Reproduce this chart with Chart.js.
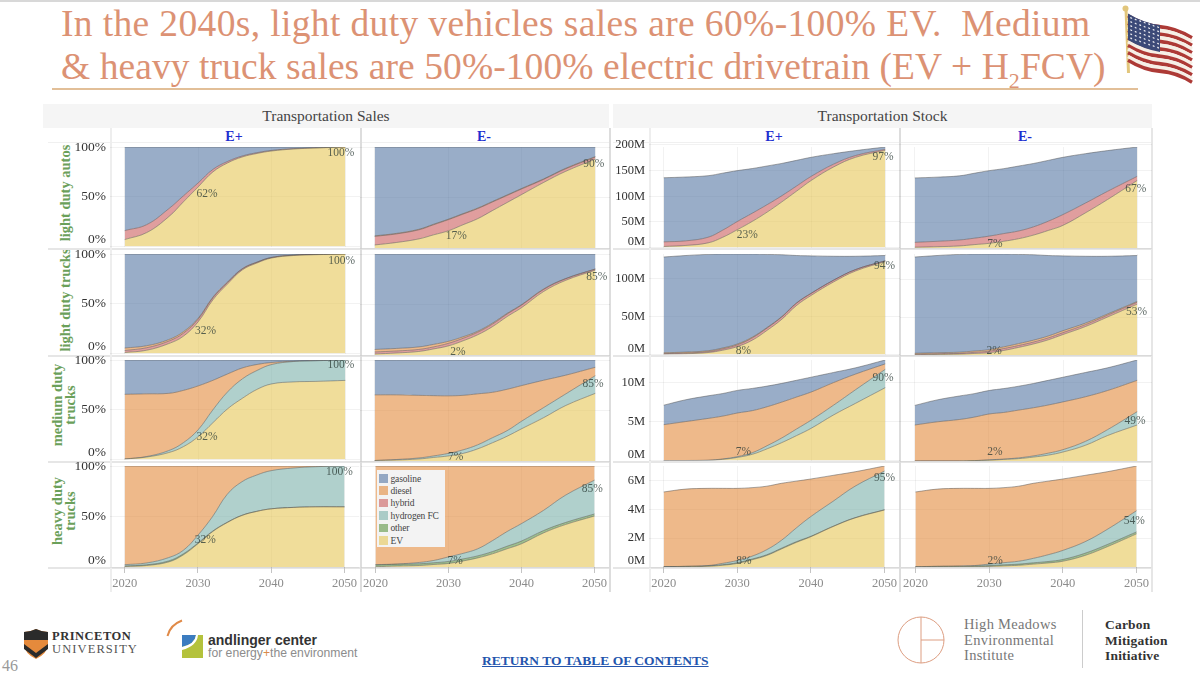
<!DOCTYPE html>
<html>
<head>
<meta charset="utf-8">
<title>Transportation sales and stock</title>
<script src="https://cdn.jsdelivr.net/npm/chart.js@4"></script>
<style>
  html, body { margin: 0; padding: 0; background: #fff; }
  body { width: 1200px; height: 678px; position: relative; overflow: hidden; font-family: "Liberation Serif", serif; }
  .abs { position: absolute; white-space: nowrap; }
  canvas { position: absolute; }
  .line { position: absolute; background: #e4e4e4; }
  .band { position: absolute; background: #f5f5f5; color: #444; font-size: 15.5px; text-align: center; line-height: 24px; top: 104px; height: 24px; }
  .scn { position: absolute; top: 129px; color: #1f2fd0; font-weight: bold; font-size: 14px; line-height: 16px; transform: translateX(-50%); }
  .rowlabel { position: absolute; color: #6ba05a; font-weight: bold; font-size: 14.5px; line-height: 13px; text-align: center; white-space: nowrap; transform: translate(-50%, -50%) rotate(-90deg); }
  .title { position: absolute; left: 61px; color: #dc9274; font-size: 37.5px; line-height: 40px; white-space: nowrap; }
  #legend { position: absolute; left: 377px; top: 470px; width: 68px; height: 77px; background: #f3f3f3; z-index: 5; }
  #legend div { position: absolute; left: 13.5px; font-size: 9.5px; line-height: 12px; letter-spacing: -.15px; color: #444; white-space: nowrap; }
  #legend span { position: absolute; left: -11.5px; top: 1.5px; width: 8.5px; height: 8.5px; }
</style>
</head>
<body>

<div class="line" style="left:0;top:0;width:1200px;height:2px;background:#d8d8d8"></div>
<div class="title" style="top:4px;letter-spacing:0.36px">In the 2040s, light duty vehicles sales are 60%-100% EV.&nbsp; Medium</div>
<div class="title" style="top:47px;letter-spacing:0.08px">&amp; heavy truck sales are 50%-100% electric drivetrain (EV + H<sub style="font-size:22px;line-height:0">2</sub>FCV)</div>
<div class="line" style="left:52px;top:88px;width:1086px;height:2px;background:#e2bf98"></div>

<svg class="abs" style="left:1120px;top:0" width="80" height="85" viewBox="0 0 80 85">
  <line x1="6" y1="9" x2="8.5" y2="73" stroke="#e2c67c" stroke-width="3"/>
  <circle cx="5.5" cy="8.5" r="3" fill="#e2c67c"/>
  <g id="flag" transform="matrix(.64 .22 0 .48 8 14)"></g>
</svg>

<div class="band" style="left:43px;width:566px">Transportation Sales</div>
<div class="band" style="left:613px;width:539px">Transportation Stock</div>
<div class="scn" style="left:234px">E+</div>
<div class="scn" style="left:484px">E-</div>
<div class="scn" style="left:774px">E+</div>
<div class="scn" style="left:1025px">E-</div>

<div class="rowlabel" style="left:65px;top:193px">light duty autos</div>
<div class="rowlabel" style="left:65px;top:300px">light duty trucks</div>
<div class="rowlabel" style="left:64px;top:405px">medium duty<br>trucks</div>
<div class="rowlabel" style="left:64px;top:511px">heavy duty<br>trucks</div>

<div id="legend"></div>

<!-- logos and footer -->
<svg class="abs" style="left:22px;top:628px" width="28" height="33" viewBox="0 0 28 33">
  <path d="M2 4 Q8 4 14 1 Q20 4 26 4 L26 17 Q25 26 14 31 Q3 26 2 17 Z" fill="#e58a3c"/>
  <path d="M2 4 Q8 4 14 1 Q20 4 26 4 L26 12 L2 12 Z" fill="#2b2b2b"/>
  <path d="M2 16 L14 25 L26 16 L26 21 L14 30 L2 21 Z" fill="#2b2b2b"/>
</svg>
<div class="abs" style="left:52px;top:630px;font-size:12.5px;line-height:12.5px;color:#333;font-weight:bold;letter-spacing:.5px">PRINCETON</div>
<div class="abs" style="left:52px;top:643px;font-size:12.5px;line-height:12.5px;color:#555;letter-spacing:1.1px">UNIVERSITY</div>

<svg class="abs" style="left:165px;top:618px" width="45" height="44" viewBox="0 0 45 44">
  <path d="M2.5 18 Q5 7 17 2.5" stroke="#e08a48" stroke-width="2" fill="none"/>
  <rect x="17" y="17" width="21" height="23" fill="#b4c23c"/>
  <path d="M17 17 L31 17 Q30 26 17 29 Z" fill="#3b7cc0"/>
  <path d="M31 17 L33 17 Q32 28 17 32 L17 29 Q30 26 31 17 Z" fill="#fff"/>
</svg>
<div class="abs" style="left:208px;top:632px;font-family:'Liberation Sans',sans-serif;font-weight:bold;font-size:14px;line-height:17px;color:#333">andlinger center</div>
<div class="abs" style="left:208px;top:646px;font-family:'Liberation Sans',sans-serif;font-size:12.2px;line-height:15px;color:#8c8c8c">for energy<span style="color:#d98a4a">+</span>the environment</div>

<div class="abs" style="left:2px;top:657px;font-size:16px;line-height:18px;color:#999">46</div>
<div class="abs" style="left:482px;top:653px;font-size:13.5px;line-height:16px;font-weight:bold;color:#2455ad;text-decoration:underline">RETURN TO TABLE OF CONTENTS</div>

<svg class="abs" style="left:895px;top:614px" width="54" height="52" viewBox="0 0 54 52">
  <circle cx="26" cy="26" r="23" fill="none" stroke="#dd9e82" stroke-width="1"/>
  <line x1="26" y1="3" x2="26" y2="49" stroke="#dd9e82" stroke-width="1"/>
  <line x1="26" y1="26" x2="49" y2="26" stroke="#dd9e82" stroke-width="1"/>
</svg>
<div class="abs" style="left:964px;top:617px;font-size:14.5px;line-height:15.5px;color:#777;letter-spacing:.3px">High Meadows<br>Environmental<br>Institute</div>
<div class="line" style="left:1082px;top:610px;width:1px;height:58px;background:#ccc"></div>
<div class="abs" style="left:1105px;top:617px;font-size:13.5px;line-height:15.5px;color:#333;font-weight:bold;letter-spacing:.2px">Carbon<br>Mitigation<br>Initiative</div>

<script>
// =======================
// DATA
// =======================
const years = [2020, 2023, 2026, 2028, 2030, 2032, 2034, 2036, 2038, 2040, 2043, 2046, 2050];
const xTicks = [2020, 2030, 2040, 2050];

const seriesNames = ['gasoline', 'diesel', 'hybrid', 'hydrogen FC', 'other', 'EV'];
const seriesColors = ['rgba(70,105,155,.55)', 'rgba(224,128,42,.55)', 'rgba(199,79,79,.55)', 'rgba(111,170,162,.55)', 'rgba(78,140,51,.55)', 'rgba(228,193,71,.55)'];

// sales, share of new vehicles (%)
const salesAutosPlusEv = [7, 14, 30, 45, 60, 75, 84, 90, 93.5, 96, 98, 99, 100];
const salesAutosPlusHybrid = [9, 8, 8, 6, 4, 2.5, 1.5, 1, .8, .6, .4, .2, 0];
const salesAutosPlusGas = [84, 78, 62, 49, 36, 22.5, 14.5, 9, 5.7, 3.4, 1.6, .8, 0];

const salesAutosMinusEv = [3, 5.5, 9, 13, 17, 23, 29, 37, 45, 53, 65, 76, 88];
const salesAutosMinusHybrid = [8.5, 8.5, 9, 10, 11, 10.5, 10, 8.5, 7, 5.5, 3, 2.5, 2];
const salesAutosMinusDiesel = [.5, .5, .5, .5, .5, .5, .5, .5, .5, .5, .5, .5, .5];
const salesAutosMinusGas = [88, 85.5, 81.5, 76.5, 71.5, 66, 60.5, 54, 47.5, 41, 31.5, 21, 9.5];

const salesTrucksPlusEv = [1, 3.3, 10, 17.5, 32, 54, 70, 84, 91, 96, 98.5, 99.3, 100];
const salesTrucksPlusHybrid = [2, 2.5, 2.5, 3, 2.5, 2, 1.5, 1, .7, .5, .3, .2, 0];
const salesTrucksPlusDiesel = [2.5, 2, 1.5, 1.5, 1, .7, .5, .3, .2, .1, .1, .1, 0];
const salesTrucksPlusGas = [94.5, 92.2, 86, 78, 64.5, 43.3, 28, 14.7, 8.1, 3.4, 1.1, .4, 0];

const salesTrucksMinusEv = [1, 2, 3.5, 6, 9, 14, 20, 28, 38, 47, 63, 74, 84];
const salesTrucksMinusHybrid = [2, 2, 2, 2, 2.5, 2.5, 2.5, 2.5, 2.5, 2.5, 2, 1.5, 1];
const salesTrucksMinusDiesel = [2.5, 2.5, 2.5, 2.5, 2, 1.5, 1, 1, .7, .5, .5, .3, .2];
const salesTrucksMinusGas = [94.5, 93.5, 92, 89.5, 86.5, 82, 76.5, 68.5, 58.8, 50, 34.5, 24.2, 14.8];

const salesMediumPlusEv = [.5, 2.5, 7, 13, 23, 37, 51, 61.5, 70.5, 76, 78, 78.5, 79.5];
const salesMediumPlusH2 = [0, .5, 2, 4, 7, 13, 17, 19.5, 19, 19.5, 20.5, 20.8, 20.5];
const salesMediumPlusDiesel = [65, 63, 57.5, 52.5, 44, 29.6, 18, 11, 6, 2, .3, 0, 0];
const salesMediumPlusGas = [34.5, 34, 33.5, 30.5, 26, 20.4, 14, 8, 4.5, 2.5, 1.2, .7, 0];

const salesMediumMinusEv = [.5, 1, 2, 3.5, 5, 7.5, 12, 18, 24.5, 32, 43, 55, 67];
const salesMediumMinusH2 = [0, .5, 1, 1.5, 2.5, 3.5, 4, 5, 5.5, 7.5, 10, 11.5, 17.5];
const salesMediumMinusDiesel = [65, 64, 62, 59.7, 57, 54, 50.5, 45, 41, 35.2, 27, 18.5, 8.3];
const salesMediumMinusGas = [34.5, 34.5, 35, 35.3, 35.5, 35, 33.5, 32, 29, 25.3, 20, 15, 7.2];

const salesHeavyPlusEv = [.5, 1.5, 5, 12, 23, 35, 44, 51, 55, 57.6, 59, 59.6, 59.6];
const salesHeavyPlusOther = [.5, .7, 1, 1, .7, .5, .3, .2, .1, 0, 0, 0, 0];
const salesHeavyPlusH2 = [1.3, 1.8, 3.3, 3.5, 7.8, 14.5, 27.7, 33.2, 35.9, 37.8, 39, 39.7, 40.4];
const salesHeavyPlusDiesel = [97.7, 96, 90.7, 83.5, 68.5, 50, 28, 15.6, 9, 4.6, 2, .7, 0];

const salesHeavyMinusEv = [.3, 1, 1.5, 2.5, 3.5, 6, 9, 13, 18, 23, 33.7, 42, 50.5];
const salesHeavyMinusOther = [1.7, 1.7, 1.7, 1.7, 2, 2, 2, 2.2, 2.5, 2.7, 2.3, 2, 2];
const salesHeavyMinusH2 = [.3, .3, 1.3, 2.3, 4.5, 5.5, 7, 10.8, 14.5, 17.3, 20, 27, 33.5];
const salesHeavyMinusDiesel = [97.7, 97, 95.5, 93.5, 90, 86.5, 82, 74, 65, 57, 44, 29, 14];

// stock, vehicles on the road (millions)
const stockAutosPlusEv = [2, 4, 9, 20, 35, 51, 69, 89, 110, 131, 157, 176, 189.5];
const stockAutosPlusHybrid = [9, 9, 11, 14, 16, 16, 14.5, 12, 10, 8, 5.5, 3.5, 2];
const stockAutosPlusGas = [125, 124.5, 120, 111, 99, 87, 75.5, 63, 50, 37, 20.5, 9.5, 4.5];

const stockAutosMinusEv = [1.5, 2.5, 4, 6.5, 9, 13, 18, 25, 34, 44, 68, 94, 131];
const stockAutosMinusHybrid = [9.5, 10.5, 11.5, 12.5, 14, 15, 15, 16, 18, 21, 19, 16, 8];
const stockAutosMinusGas = [125, 124.5, 124.5, 126, 127, 126, 126, 123, 118, 111, 96, 79, 57];

const stockTrucksPlusEv = [.3, 1, 2.6, 5.7, 10.6, 19, 32, 46.7, 65, 78.4, 96, 110.6, 123];
const stockTrucksPlusHybrid = [.8, 1, 1.2, 1.8, 2.2, 3, 3, 3, 3, 2.6, 2.2, 1.8, 1];
const stockTrucksPlusDiesel = [1.2, 1.2, 1.2, 1.2, 1.2, 1, .8, .6, .4, .3, .2, .1, 0];
const stockTrucksPlusGas = [126.7, 127.8, 127.5, 124.3, 119, 110, 96.7, 81.7, 62.6, 49.2, 31.6, 17.5, 7];

const stockTrucksMinusEv = [.3, .7, 1.2, 2, 3, 6, 10, 14.5, 20, 27, 37.4, 50, 67];
const stockTrucksMinusHybrid = [.8, 1, 1, 1.5, 2, 2.5, 2.5, 2.5, 2.5, 2.5, 2.5, 2.5, 2.5];
const stockTrucksMinusDiesel = [1.2, 1.3, 1.5, 1.7, 2, 2.2, 2.5, 2.5, 2.5, 2.5, 2, 1.5, 1];
const stockTrucksMinusGas = [126.7, 128, 128.8, 127.8, 126, 122.3, 117.5, 112.5, 106, 98.5, 88.1, 76, 60.5];

const stockMediumPlusEv = [0, 0, 0, .15, .4, .8, 1.5, 2.3, 3.2, 4.15, 5.85, 7.35, 9.35];
const stockMediumPlusH2 = [0, 0, .05, .05, .1, .2, .4, .6, .85, 1.05, 1.25, 1.75, 2.35];
const stockMediumPlusDiesel = [4.6, 5, 5.35, 5.5, 5.6, 5.4, 5, 4.6, 4.1, 3.6, 2.9, 2, .7];
const stockMediumPlusGas = [2.5, 2.8, 2.9, 2.9, 2.9, 2.85, 2.65, 2.4, 2.15, 1.9, 1.3, .8, .5];

const stockMediumMinusEv = [0, 0, 0, .05, .1, .2, .3, .5, .75, 1.15, 2, 3.25, 4.6];
const stockMediumMinusH2 = [0, 0, 0, 0, .05, .05, .1, .15, .25, .3, .5, .75, 1.7];
const stockMediumMinusDiesel = [4.6, 5, 5.3, 5.55, 5.85, 5.95, 6.1, 6.15, 6.15, 6.1, 5.7, 5, 4];
const stockMediumMinusGas = [2.5, 2.8, 3, 3, 3, 3.05, 3.05, 3.1, 3.15, 3.15, 3.1, 2.9, 2.6];

const stockHeavyPlusEv = [0, .02, .05, .12, .25, .5, .8, 1.25, 1.7, 2.1, 2.8, 3.4, 3.95];
const stockHeavyPlusOther = [.02, .02, .03, .04, .05, .05, .05, .05, .05, .03, .02, .02, .02];
const stockHeavyPlusH2 = [0, .01, .02, .09, .15, .2, .35, .55, .95, 1.37, 1.73, 2.18, 2.68];
const stockHeavyPlusDiesel = [5.18, 5.35, 5.35, 5.2, 5, 4.75, 4.4, 3.95, 3.25, 2.6, 1.8, 1, .35];

const stockHeavyMinusEv = [0, .01, .01, .02, .04, .08, .12, .2, .28, .4, .8, 1.4, 2.3];
const stockHeavyMinusOther = [.02, .03, .04, .05, .06, .07, .08, .09, .1, .12, .15, .15, .13];
const stockHeavyMinusH2 = [0, .01, .02, .03, .1, .15, .2, .31, .47, .63, .8, 1.05, 1.47];
const stockHeavyMinusDiesel = [5.18, 5.35, 5.38, 5.35, 5.25, 5.2, 5.2, 5.2, 5.1, 4.95, 4.6, 4, 3.1];

// y axis ticks per row of the stock columns
const salesTicks = [0, 50, 100];
const stockTicksAutos = [0, 50, 100, 150, 200];
const stockTicksTrucks = [0, 50, 100];
const stockTicksMedium = [0, 5, 10];
const stockTicksHeavy = [0, 2, 4, 6];

// =======================
// LAYOUT
// =======================
const colLeft = [110, 360, 649, 900];
const colWidth = [250, 250, 251, 252];
const rowTop = [147, 254, 360, 466];
const plotHeight = 101;
const axisRoom = 46;

// [series index, values], bottom band first
function bands(ev, other, h2, hybrid, diesel, gas) {
    return [[5, ev], [4, other], [3, h2], [2, hybrid], [1, diesel], [0, gas]].filter(b => b[1]);
}

// one entry per small chart: column, row, bands, y max, ticks, unit, labels [text, year, value]
const panels = [
    { c: 0, r: 0, bands: bands(salesAutosPlusEv, null, null, salesAutosPlusHybrid, null, salesAutosPlusGas), max: 100, ticks: salesTicks, unit: '%', notes: [['62%', 2031.2, 53], ['100%', 2049.4, 94]] },
    { c: 1, r: 0, bands: bands(salesAutosMinusEv, null, null, salesAutosMinusHybrid, salesAutosMinusDiesel, salesAutosMinusGas), max: 100, ticks: salesTicks, unit: '%', notes: [['17%', 2031.1, 12], ['90%', 2049.8, 83.5]] },
    { c: 2, r: 0, bands: bands(stockAutosPlusEv, null, null, stockAutosPlusHybrid, null, stockAutosPlusGas), max: 196, ticks: stockTicksAutos, unit: 'M', notes: [['23%', 2031.3, 24.7], ['97%', 2049.7, 177]] },
    { c: 3, r: 0, bands: bands(stockAutosMinusEv, null, null, stockAutosMinusHybrid, null, stockAutosMinusGas), max: 196, ticks: stockTicksAutos, unit: 'M', notes: [['7%', 2030.8, 8.5], ['67%', 2049.8, 115]] },

    { c: 0, r: 1, bands: bands(salesTrucksPlusEv, null, null, salesTrucksPlusHybrid, salesTrucksPlusDiesel, salesTrucksPlusGas), max: 100, ticks: salesTicks, unit: '%', notes: [['32%', 2031, 23], ['100%', 2049.5, 92.7]] },
    { c: 1, r: 1, bands: bands(salesTrucksMinusEv, null, null, salesTrucksMinusHybrid, salesTrucksMinusDiesel, salesTrucksMinusGas), max: 100, ticks: salesTicks, unit: '%', notes: [['2%', 2031.3, 3.3], ['85%', 2050.2, 77]] },
    { c: 2, r: 1, bands: bands(stockTrucksPlusEv, null, null, stockTrucksPlusHybrid, stockTrucksPlusDiesel, stockTrucksPlusGas), max: 133, ticks: stockTicksTrucks, unit: 'M', notes: [['8%', 2030.8, 4.4], ['94%', 2049.9, 116.6]] },
    { c: 3, r: 1, bands: bands(stockTrucksMinusEv, null, null, stockTrucksMinusHybrid, stockTrucksMinusDiesel, stockTrucksMinusGas), max: 133, ticks: stockTicksTrucks, unit: 'M', notes: [['2%', 2030.7, 5.3], ['53%', 2049.9, 57]] },

    { c: 0, r: 2, bands: bands(salesMediumPlusEv, null, salesMediumPlusH2, null, salesMediumPlusDiesel, salesMediumPlusGas), max: 100, ticks: salesTicks, unit: '%', notes: [['32%', 2031.2, 22.7], ['100%', 2049.4, 95]] },
    { c: 1, r: 2, bands: bands(salesMediumMinusEv, null, salesMediumMinusH2, null, salesMediumMinusDiesel, salesMediumMinusGas), max: 100, ticks: salesTicks, unit: '%', notes: [['7%', 2031, 4], ['85%', 2049.7, 76]] },
    { c: 2, r: 2, bands: bands(stockMediumPlusEv, null, stockMediumPlusH2, null, stockMediumPlusDiesel, stockMediumPlusGas), max: 12.9, ticks: stockTicksMedium, unit: 'M', notes: [['7%', 2030.8, 1.07], ['90%', 2049.7, 10.6]] },
    { c: 3, r: 2, bands: bands(stockMediumMinusEv, null, stockMediumMinusH2, null, stockMediumMinusDiesel, stockMediumMinusGas), max: 12.9, ticks: stockTicksMedium, unit: 'M', notes: [['2%', 2030.8, 1.1], ['49%', 2049.7, 5.1]] },

    { c: 0, r: 3, bands: bands(salesHeavyPlusEv, salesHeavyPlusOther, salesHeavyPlusH2, null, salesHeavyPlusDiesel, null), max: 100, ticks: salesTicks, unit: '%', notes: [['32%', 2031, 26.5], ['100%', 2049.3, 94]] },
    { c: 1, r: 3, bands: bands(salesHeavyMinusEv, salesHeavyMinusOther, salesHeavyMinusH2, null, salesHeavyMinusDiesel, null), max: 100, ticks: salesTicks, unit: '%', notes: [['7%', 2030.9, 6], ['85%', 2049.7, 77.5]] },
    { c: 2, r: 3, bands: bands(stockHeavyPlusEv, stockHeavyPlusOther, stockHeavyPlusH2, null, stockHeavyPlusDiesel, null), max: 7, ticks: stockTicksHeavy, unit: 'M', notes: [['8%', 2030.9, .4], ['95%', 2050, 6.16]] },
    { c: 3, r: 3, bands: bands(stockHeavyMinusEv, stockHeavyMinusOther, stockHeavyMinusH2, null, stockHeavyMinusDiesel, null), max: 7, ticks: stockTicksHeavy, unit: 'M', notes: [['2%', 2030.8, .42], ['54%', 2049.7, 3.2]] }
];

// =======================
// SEPARATOR LINES
// =======================
function addLine(left, top, width, height, color) {
    const d = document.createElement('div');
    d.className = 'line';
    d.style.cssText = `left:${left}px;top:${top}px;width:${width}px;height:${height}px;background:${color}`;
    document.body.appendChild(d);
}
[248, 355, 461, 567].forEach(y => {
    addLine(48, y, 561, 2, '#e6e6e6');
    addLine(613, y, 539, 2, '#e6e6e6');
});
addLine(48, 142, 561, 1, '#f0f0f0');
addLine(613, 142, 539, 1, '#f0f0f0');
[[110, '#eeeeee'], [360, '#dddddd'], [609, '#dddddd'], [649, '#eeeeee'], [899, '#dddddd'], [1151, '#e6e6e6']].forEach(v => {
    addLine(v[0], 128, 1.5, 464, v[1]);
});

// =======================
// PERCENT LABELS ON THE AREAS
// =======================
const notesPlugin = {
    id: 'notes',
    afterDatasetsDraw(chart, args, opts) {
        const ctx = chart.ctx;
        ctx.save();
        ctx.font = '11.5px "Liberation Serif"';
        ctx.fillStyle = 'rgba(45,60,55,.78)';
        ctx.textAlign = 'center';
        ctx.textBaseline = 'middle';
        opts.items.forEach(n => {
            ctx.fillText(n[0], chart.scales.x.getPixelForValue(n[1]), chart.scales.y.getPixelForValue(n[2]));
        });
        ctx.restore();
    }
};

// =======================
// BUILD THE CHARTS
// =======================
function makePanel(p) {
    const showY = p.c === 0 || p.c === 2;
    const lastRow = p.r === 3;
    const leftRoom = showY ? axisRoom : 0;
    // the y axis asks for half a label above and below the plot, so leave it that much canvas
    const topRoom = 16;
    const bottomRoom = lastRow ? 30 : 16;

    const canvas = document.createElement('canvas');
    canvas.width = colWidth[p.c] + leftRoom;
    canvas.height = topRoom + plotHeight + bottomRoom;
    canvas.style.left = (colLeft[p.c] - leftRoom) + 'px';
    canvas.style.top = (rowTop[p.r] - topRoom) + 'px';
    document.body.appendChild(canvas);

    const datasets = p.bands.map((b, i) => ({
        label: seriesNames[b[0]],
        data: years.map((y, k) => ({ x: y, y: b[1][k] })),
        backgroundColor: seriesColors[b[0]],
        borderColor: 'rgba(85,85,85,.5)',
        borderWidth: 1,
        pointRadius: 0,
        tension: 0.4,
        fill: i === 0 ? 'origin' : '-1'
    }));

    new Chart(canvas, {
        type: 'line',
        data: { datasets },
        plugins: [notesPlugin],
        options: {
            responsive: false,
            animation: false,
            devicePixelRatio: 1,
            layout: { autoPadding: false, padding: { top: topRoom, left: 0, right: 0, bottom: 0 } },
            plugins: {
                legend: { display: false },
                tooltip: { enabled: false },
                notes: { items: p.notes }
            },
            scales: {
                x: {
                    type: 'linear',
                    min: 2018,
                    max: 2052,
                    afterBuildTicks: s => { s.ticks = xTicks.map(v => ({ value: v })); },
                    afterFit: s => { s.height = bottomRoom; },
                    border: { display: false },
                    grid: { color: 'rgba(0,0,0,.05)', drawTicks: lastRow, tickLength: 6, tickColor: '#c4c4c4' },
                    ticks: {
                        display: lastRow,
                        maxRotation: 0,
                        padding: 3,
                        color: '#8c8c8c',
                        font: { family: 'Liberation Serif', size: 12.5 },
                        callback: v => String(v)
                    }
                },
                y: {
                    stacked: true,
                    min: 0,
                    max: p.max,
                    afterBuildTicks: s => { s.ticks = p.ticks.map(v => ({ value: v })); },
                    afterFit: s => { s.width = leftRoom; },
                    border: { display: false },
                    grid: { color: 'rgba(0,0,0,.05)', drawTicks: false },
                    ticks: {
                        display: showY,
                        autoSkip: false,
                        padding: 4,
                        color: '#333',
                        font: { family: 'Liberation Serif', size: p.unit === '%' ? 13.5 : 12.5, lineHeight: 1 },
                        // the bottom label sits a little above the zero line
                        callback: v => (v === 0 ? [v + p.unit, ''] : v + p.unit)
                    }
                }
            }
        }
    });
}
panels.forEach(makePanel);

// =======================
// LEGEND
// =======================
const legendBox = document.getElementById('legend');
seriesNames.forEach((name, i) => {
    const row = document.createElement('div');
    row.style.top = (2.5 + i * 12.4) + 'px';
    row.innerHTML = `<span style="background:${seriesColors[i]}"></span>${name}`;
    legendBox.appendChild(row);
});

// =======================
// FLAG PIN
// =======================
const flag = document.getElementById('flag');
let flagSvg = '';
for (let i = 0; i < 13; i++) {
    const y = 3.85 + i * 7.7;
    flagSvg += `<path d="M0 ${y} Q25 ${y + 9} 50 ${y} T100 ${y}" fill="none" stroke-width="7.9" stroke="${i % 2 ? '#f6efe6' : '#ad3a36'}"/>`;
}
flagSvg += '<path d="M0 -1 Q25 8 50 0 L50 56 Q25 62 0 54 Z" fill="#3c4a78"/>';
for (let r = 0; r < 6; r++) {
    for (let c = 0; c < 7; c++) {
        flagSvg += `<circle cx="${5 + c * 7}" cy="${6 + r * 8.5}" r="1.6" fill="#e8e8ee"/>`;
    }
}
flag.innerHTML = flagSvg;
</script>
</body>
</html>
